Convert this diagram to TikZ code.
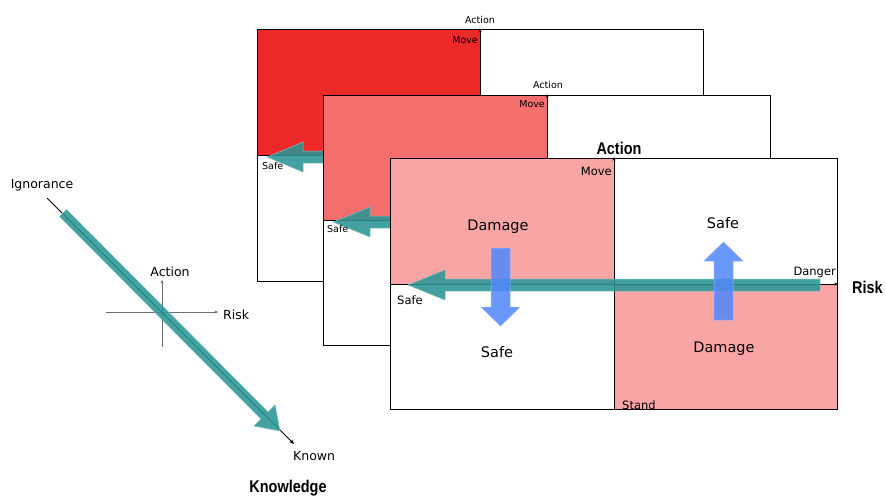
\documentclass[tikz,border=0pt]{standalone}
\usepackage{fontspec}
\setmainfont{DejaVu Sans}
\newfontfamily\boldlbl{Liberation Sans}[FakeStretch=0.85]
\usetikzlibrary{calc,arrows.meta}
\definecolor{redA}{RGB}{236,40,40}
\definecolor{redB}{RGB}{244,110,110}
\definecolor{redC}{RGB}{249,165,165}
\definecolor{tealA}{RGB}{42,150,148}
\definecolor{blueA}{RGB}{80,135,250}
\definecolor{crossgray}{RGB}{110,110,110}
\tikzset{
  panelfill/.style={fill=white},
  panelborder/.style={draw=black, line width=0.8},
  divider/.style={draw=black, line width=0.7},
  axistip/.style={-{Stealth[length=3.5pt,width=3pt]}},
  tealarrow/.style={fill=tealA, draw=tealA!60!white, line width=0.5, fill opacity=0.88},
  bluearrow/.style={fill=blueA, draw=blueA!60!white, line width=0.5, fill opacity=0.85},
  tiny/.style={inner sep=0, font=\fontsize{9.5}{11}\selectfont},
  small/.style={inner sep=0, font=\fontsize{11.5}{13}\selectfont},
  mid/.style={inner sep=0, font=\fontsize{12.5}{14}\selectfont},
  big/.style={inner sep=0, font=\fontsize{14.5}{16}\selectfont},
  bold/.style={inner sep=0, font=\boldlbl\bfseries\fontsize{17}{19}\selectfont},
}
\begin{document}
\begin{tikzpicture}[x=1pt,y=-1pt]
\useasboundingbox (0,0) rectangle (886,498);

% ---------- panel 1 (back) ----------
\fill[panelfill] (257,29) rectangle (703,281);
\fill[redA] (257,29) rectangle (480,155);
\draw[divider] (257,155) -- (703,155);
\draw[divider, axistip] (480,281) -- (480,28);
\filldraw[tealarrow] (267,157) -- (303,142) -- (303,151) -- (687,151) -- (687,163) -- (303,163) -- (303,172) -- cycle;
\draw[panelborder] (257,29) rectangle (703,281);
\node[tiny] (a1) at (480,20) {Action};
\node[tiny, anchor=east] (m1) at (478,40) {Move};
\node[tiny, anchor=west] (s1) at (262,166) {Safe};

% ---------- panel 2 (middle) ----------
\fill[panelfill] (323,95) rectangle (770,345);
\fill[redB] (323,95) rectangle (547,220);
\draw[divider] (323,220) -- (770,220);
\draw[divider, axistip] (547,345) -- (547,94);
\filldraw[tealarrow] (333,222) -- (370,207) -- (370,216) -- (753,216) -- (753,228) -- (370,228) -- (370,237) -- cycle;
\draw[panelborder] (323,95) rectangle (770,345);
\node[tiny] (a2) at (548,85) {Action};
\node[tiny, anchor=east] (m2) at (545,104) {Move};
\node[tiny, anchor=west] (s2) at (327,229) {Safe};

% ---------- panel 3 (front) ----------
\fill[panelfill] (390,158) rectangle (837,409);
\fill[redC] (390,158) rectangle (614,284);
\fill[redC] (614,284) rectangle (837,409);
\draw[divider, axistip] (390,284) -- (838,284);
\draw[divider, axistip] (614,409) -- (614,157);
\filldraw[tealarrow] (408,285) -- (445,270) -- (445,279) -- (820,279) -- (820,291) -- (445,291) -- (445,300) -- cycle;
\filldraw[bluearrow] (491,248) -- (510,248) -- (510,307) -- (520,307) -- (500.5,326) -- (481,307) -- (491,307) -- cycle;
\filldraw[bluearrow] (714,320) -- (733,320) -- (733,261) -- (743,261) -- (723.5,242) -- (704,261) -- (714,261) -- cycle;
\draw[panelborder] (390,158) rectangle (837,409);
\node[small, anchor=east] (m3) at (612,171) {Move};
\node[small, anchor=west] (s3) at (397,300) {Safe};
\node[small, anchor=east] (dg) at (836,272) {Danger};
\node[small, anchor=west] (st) at (622,405) {Stand};
\node[big] (dm1) at (498,227) {Damage};
\node[big] (sf1) at (723,223) {Safe};
\node[big] (sf2) at (497,352) {Safe};
\node[big] (dm2) at (724,349) {Damage};

% ---------- bold axis labels ----------
\node[bold] (actB) at (619,148) {Action};
\node[bold, anchor=west] (riskB) at (852,287) {Risk};
\node[bold] (knowB) at (288,488) {Knowledge};

% ---------- left diagram ----------
\node[mid] (ign) at (42,185) {Ignorance};
\node[mid] (actL) at (170,272) {Action};
\node[mid, anchor=west] (riskL) at (223,315) {Risk};
\node[mid, anchor=west] (known) at (293,456) {Known};
\coordinate (hL) at (106,312);
\coordinate (hR) at (218,312);
\coordinate (vB) at (162,347);
\coordinate (vT) at (162,280);
\draw[crossgray, line width=0.8, -{Stealth[length=3.5pt,width=3pt]}] (hL) -- (hR);
\draw[crossgray, line width=0.8, -{Stealth[length=3.5pt,width=3pt]}] (vB) -- (vT);
\coordinate (lS) at (47,198);
\coordinate (lE) at (294,444);
\draw[black, line width=0.9, -{Stealth[length=5pt,width=4pt]}] (lS) -- (lE);
\coordinate (tS) at (63,213);
\coordinate (tT) at (280,431);
\coordinate (tH) at ($(tT)!22pt!(tS)$);
\filldraw[tealarrow]
  ($(tS)!5pt!90:(tT)$) -- ($(tH)!5pt!90:(tT)$) -- ($(tH)!15pt!90:(tT)$) -- (tT)
  -- ($(tH)!15pt!-90:(tT)$) -- ($(tH)!5pt!-90:(tT)$) -- ($(tS)!5pt!-90:(tT)$) -- cycle;
\end{tikzpicture}
\end{document}
